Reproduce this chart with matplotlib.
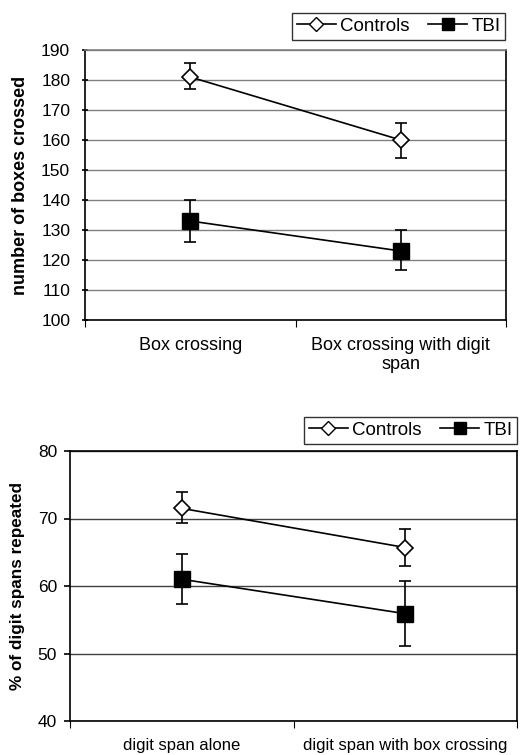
import matplotlib.pyplot as plt
import numpy as np
from matplotlib.lines import Line2D

plt.rcParams['font.family'] = ['Liberation Sans', 'DejaVu Sans']

# top panel: boxes crossed
top_cats = ['Box crossing', 'Box crossing with digit\nspan']
top_controls = [181, 160]
top_controls_lo = [177, 154]
top_controls_hi = [185.5, 165.5]
top_tbi = [133, 123]
top_tbi_lo = [126, 116.5]
top_tbi_hi = [140, 130]

# bottom panel: digit spans repeated
bot_cats = ['digit span alone', 'digit span with box crossing']
bot_controls = [71.5, 65.7]
bot_controls_lo = [69.3, 62.9]
bot_controls_hi = [73.9, 68.5]
bot_tbi = [61.0, 55.9]
bot_tbi_lo = [57.3, 51.1]
bot_tbi_hi = [64.7, 60.7]

W, H = 526, 755
fig = plt.figure(figsize=(W / 100, H / 100), dpi=100)


def panel(rect, cats, ctrl, clo, chi, tbi, tlo, thi, ylim, yticks, ylabel,
          grid_col, leg_anchor, catsize, labsize, ytickdir, ypad):
    ax = fig.add_axes(rect)
    x = np.arange(len(cats)) + 0.5
    ctrl = np.array(ctrl); tbi = np.array(tbi)
    ax.errorbar(x, ctrl, yerr=[ctrl - np.array(clo), np.array(chi) - ctrl],
                color='black', lw=1.2, capsize=4, elinewidth=1.2, capthick=1.2,
                marker='D', ms=8, mfc='white', mec='black', mew=1.2, zorder=3,
                label='Controls')
    ax.errorbar(x, tbi, yerr=[tbi - np.array(tlo), np.array(thi) - tbi],
                color='black', lw=1.2, capsize=4, elinewidth=1.2, capthick=1.2,
                marker='s', ms=12, mfc='black', mec='black', zorder=3,
                label='TBI')
    ax.set_xlim(0, len(cats))
    ax.set_ylim(*ylim)
    ax.set_yticks(yticks)
    ax.set_xticks([0, 1, 2])
    ax.set_xticklabels([])
    ax.set_xticks(x, minor=True)
    ax.set_xticklabels(cats, minor=True, fontsize=catsize)
    ax.tick_params(axis='x', which='minor', length=0, pad=12)
    ax.tick_params(axis='x', which='major', length=5, direction='out')
    ax.tick_params(axis='y', labelsize=12.5, length=4, direction=ytickdir,
                   width=1.2, pad=ypad)
    ax.yaxis.grid(True, color=grid_col, lw=1.0)
    ax.set_axisbelow(True)
    for s in ax.spines.values():
        s.set_linewidth(1.2)
    ax.set_ylabel(ylabel, fontsize=labsize, fontweight='bold', labelpad=9)
    hh = [Line2D([], [], color='black', lw=1.2, marker='D', ms=7, mfc='white', mec='black'),
          Line2D([], [], color='black', lw=1.2, marker='s', ms=9, mfc='black')]
    leg = fig.legend(hh, ['Controls', 'TBI'], loc='upper right', ncol=2, fontsize=13.5,
                     frameon=True, fancybox=False, edgecolor='black', handlelength=2.1,
                     columnspacing=1.0, handletextpad=0.2, borderpad=0.25,
                     borderaxespad=0, bbox_to_anchor=leg_anchor,
                     bbox_transform=fig.transFigure)
    leg.get_frame().set_linewidth(1.0)
    return ax


def r(x0, y0, x1, y1):
    return [x0 / W, 1 - y1 / H, (x1 - x0) / W, (y1 - y0) / H]


ax1 = panel(r(85, 50, 506, 320), top_cats, top_controls, top_controls_lo, top_controls_hi,
            top_tbi, top_tbi_lo, top_tbi_hi, (100, 190), range(100, 191, 10),
            'number of boxes crossed', '#808080', (505 / W, 1 - 13 / H), 13, 13, 'inout', 8.7)
ax1.spines['top'].set_color('#808080')

ax2 = panel(r(70, 451, 517, 721), bot_cats, bot_controls, bot_controls_lo, bot_controls_hi,
            bot_tbi, bot_tbi_lo, bot_tbi_hi, (40, 80), range(40, 81, 10),
            '% of digit spans repeated', '#404040', (517 / W, 1 - 417 / H), 12, 12.3, 'out', 5.3)

fig.savefig('out.png', dpi=100)
